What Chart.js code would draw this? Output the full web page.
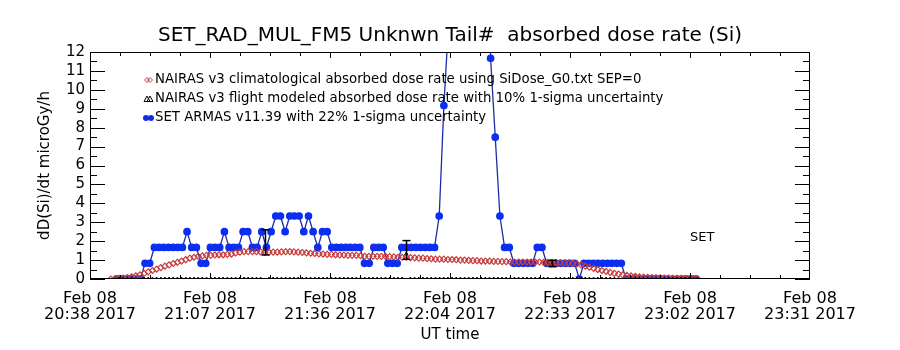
<!DOCTYPE html>
<html>
<head>
<meta charset="utf-8">
<script src="https://cdn.jsdelivr.net/npm/chart.js@4.4.1/dist/chart.umd.min.js"></script>
<style>
  html, body { margin: 0; padding: 0; background: #fff; }
</style>
</head>
<body>
<canvas id="doseChart" width="900" height="350"></canvas>
<script>
// x axis is minutes after 20:38 UT
const xTickVals = [0, 28.83, 57.67, 86.5, 115.33, 144.17, 173];
const xTickLabels = [
  ["Feb 08", "20:38 2017"], ["Feb 08", "21:07 2017"], ["Feb 08", "21:36 2017"],
  ["Feb 08", "22:04 2017"], ["Feb 08", "22:33 2017"], ["Feb 08", "23:02 2017"],
  ["Feb 08", "23:31 2017"]
];

// NAIRAS climatological, one value per minute starting at minute 5
const climStart = 5;
const climVals = [
  0.0, 0.02, 0.03, 0.05, 0.08, 0.12, 0.17, 0.22, 0.3, 0.38,
  0.45, 0.52, 0.6, 0.68, 0.75, 0.82, 0.88, 0.95, 1.02, 1.1,
  1.15, 1.2, 1.22, 1.25, 1.25, 1.27, 1.28, 1.28, 1.3, 1.32,
  1.38, 1.42, 1.45, 1.45, 1.45, 1.45, 1.43, 1.42, 1.42, 1.42,
  1.42, 1.43, 1.45, 1.45, 1.43, 1.42, 1.4, 1.38, 1.36, 1.35,
  1.33, 1.32, 1.3, 1.3, 1.28, 1.27, 1.27, 1.25, 1.25, 1.25,
  1.23, 1.2, 1.2, 1.2, 1.2, 1.2, 1.2, 1.18, 1.17, 1.15,
  1.15, 1.15, 1.13, 1.12, 1.1, 1.1, 1.08, 1.07, 1.05, 1.05,
  1.05, 1.03, 1.03, 1.02, 1.0, 1.0, 0.98, 0.97, 0.97, 0.95,
  0.95, 0.95, 0.93, 0.93, 0.92, 0.92, 0.9, 0.9, 0.9, 0.9,
  0.9, 0.9, 0.9, 0.9, 0.88, 0.88, 0.87, 0.87, 0.86, 0.85,
  0.85, 0.83, 0.8, 0.75, 0.68, 0.62, 0.56, 0.5, 0.45, 0.4,
  0.35, 0.3, 0.26, 0.22, 0.19, 0.16, 0.14, 0.12, 0.1, 0.09,
  0.08, 0.07, 0.06, 0.05, 0.05, 0.04, 0.03, 0.03, 0.02, 0.02,
  0.01, 0.01
];

// NAIRAS flight modeled, one value per minute starting at minute 7
const flightStart = 7;
const flightVals = [
  0, 0, 0, 0, 0, 0, 0, 0, 0, 0,  0, 0, 0, 0, 0, 0, 0, 0, 0, 0,
  0, 0, 0, 0, 0, 0, 0, 0, 0, 0,  0, 0, 0, 0, 0, 1.58, 0, 0, 0, 0,
  0, 0, 0, 0, 0, 0, 0, 0, 0, 0,  0, 0, 0, 0, 0, 0, 0, 0, 0, 0,
  0, 0, 0, 0, 0, 0, 0, 0, 0, 1.32,  0, 0, 0, 0, 0, 0, 0, 0, 0, 0,
  0, 0, 0, 0, 0, 0, 0, 0, 0, 0,  0, 0, 0, 0, 0, 0, 0, 0, 0, 0,
  0, 0, 0, 0, 0.83, 0, 0, 0, 0, 0,  0, 0, 0, 0, 0, 0, 0, 0, 0, 0,
  0, 0, 0, 0, 0, 0, 0, 0, 0, 0,  0, 0, 0, 0, 0, 0, 0, 0, 0, 0
];
// error bars on the flight modeled points (minute, low, high)
const errMinutes = [42, 76, 111];
const errLow = [1.27, 1.04, 0.65];
const errHigh = [2.6, 2.03, 0.99];

// SET ARMAS measurements, every 1.122 minutes starting at minute 6.49
const armasStart = 6.49;
const armasStep = 1.122;
const armasVals = [
  0, 0, 0, 0, 0, 0, 0.83, 0.83, 1.67, 1.67,
  1.67, 1.67, 1.67, 1.67, 1.67, 2.5, 1.67, 1.67, 0.83, 0.83,
  1.67, 1.67, 1.67, 2.5, 1.67, 1.67, 1.67, 2.5, 2.5, 1.67,
  1.67, 2.5, 1.67, 2.5, 3.33, 3.33, 2.5, 3.33, 3.33, 3.33,
  2.5, 3.33, 2.5, 1.67, 2.5, 2.5, 1.67, 1.67, 1.67, 1.67,
  1.67, 1.67, 1.67, 0.83, 0.83, 1.67, 1.67, 1.67, 0.83, 0.83,
  0.83, 1.67, 1.67, 1.67, 1.67, 1.67, 1.67, 1.67, 1.67, 3.33,
  9.17, 13.5, 20, 26, 30, 31, 29, 27, 24, 30,
  11.67, 7.5, 3.33, 1.67, 1.67, 0.83, 0.83, 0.83, 0.83, 0.83,
  1.67, 1.67, 0.83, 0.83, 0.83, 0.83, 0.83, 0.83, 0.83, 0,
  0.83, 0.83, 0.83, 0.83, 0.83, 0.83, 0.83, 0.83, 0.83, 0,
  0, 0, 0, 0, 0, 0, 0, 0, 0, 0,
  0, 0, 0, 0, 0
];

const climLabel = "NAIRAS v3 climatological absorbed dose rate using SiDose_G0.txt SEP=0";
const flightLabel = "NAIRAS v3 flight modeled absorbed dose rate with 10% 1-sigma uncertainty";
const armasLabel = "SET ARMAS v11.39 with 22% 1-sigma uncertainty";

const RED = '#c83c3c';
const BLUE_PT = '#0b2ef0';
const BLUE_LN = '#1c2ca8';
const FONT = 'DejaVu Sans';

const climPts = climVals.map((v, i) => ({x: climStart + i, y: v}));
const flightPts = flightVals.map((v, i) => ({x: flightStart + i, y: v}));
const armasPts = armasVals.map((v, i) => ({x: armasStart + i * armasStep, y: v}));

// box, inward ticks, error bars, inner legend and label
const decorations = {
  id: 'decorations',
  afterDatasetsDraw(chart) {
    const {ctx, chartArea: a, scales: {x, y}} = chart;
    const seg = (x1, y1, x2, y2) => { ctx.beginPath(); ctx.moveTo(x1, y1); ctx.lineTo(x2, y2); ctx.stroke(); };
    ctx.save();
    ctx.strokeStyle = '#000';
    ctx.lineWidth = 1;

    // error bars
    errMinutes.forEach((m, i) => {
      const px = Math.round(x.getPixelForValue(m)) + 0.5;
      const lo = y.getPixelForValue(errLow[i]);
      const hi = y.getPixelForValue(errHigh[i]);
      ctx.lineWidth = 1.5;
      seg(px, lo, px, hi);
      seg(px - 4, lo, px + 4, lo);
      seg(px - 4, hi, px + 4, hi);
    });
    ctx.lineWidth = 1;

    ctx.strokeRect(a.left + 0.5, a.top + 0.5, a.right - a.left - 1, a.bottom - a.top - 1);

    // y ticks on both sides, minor every 0.5
    for (let v = 0; v <= 12; v += 0.5) {
      const py = Math.round(y.getPixelForValue(v)) + 0.5;
      const len = Number.isInteger(v) ? 15 : 7;
      seg(a.left, py, a.left + len, py);
      seg(a.right, py, a.right - len, py);
    }
    // x ticks top and bottom, 4 minor per major
    for (let i = 0; i < xTickVals.length - 1; i++) {
      for (let k = 0; k < 4; k++) {
        const v = xTickVals[i] + (xTickVals[i + 1] - xTickVals[i]) * k / 4;
        const px = Math.round(x.getPixelForValue(v)) + 0.5;
        const len = k === 0 ? 6 : 4;
        seg(px, a.bottom, px, a.bottom - len);
        seg(px, a.top, px, a.top + len);
      }
    }

    // legend inside the plot
    ctx.font = '13.3px "' + FONT + '"';
    ctx.fillStyle = '#000';
    ctx.textBaseline = 'middle';
    const lx = 145, tx = 155;
    const rows = [80, 99, 118];
    ctx.strokeStyle = RED;
    [lx + 2, lx + 5].forEach(cx => {
      ctx.beginPath();
      ctx.moveTo(cx, rows[0] - 2.5); ctx.lineTo(cx + 2.5, rows[0]);
      ctx.lineTo(cx, rows[0] + 2.5); ctx.lineTo(cx - 2.5, rows[0]); ctx.closePath(); ctx.stroke();
    });
    ctx.strokeStyle = '#000';
    [lx + 2, lx + 5].forEach(cx => {
      ctx.beginPath();
      ctx.moveTo(cx, rows[1] - 3); ctx.lineTo(cx + 3, rows[1] + 2.5);
      ctx.lineTo(cx - 3, rows[1] + 2.5); ctx.closePath(); ctx.stroke();
    });
    ctx.fillStyle = BLUE_PT;
    [lx + 1, lx + 6].forEach(cx => {
      ctx.beginPath(); ctx.arc(cx, rows[2], 3, 0, Math.PI * 2); ctx.fill();
    });
    ctx.strokeStyle = BLUE_LN;
    seg(lx + 1, rows[2], lx + 6, rows[2]);
    ctx.fillStyle = '#000';
    ctx.fillText(climLabel, tx, rows[0]);
    ctx.fillText(flightLabel, tx, rows[1]);
    ctx.fillText(armasLabel, tx, rows[2]);

    ctx.font = '13px "' + FONT + '"';
    ctx.fillText('SET', 690, 238);
    ctx.restore();
  }
};

new Chart(document.getElementById('doseChart'), {
  type: 'scatter',
  data: {
    datasets: [
      {
        label: climLabel,
        data: climPts,
        showLine: false,
        pointStyle: 'rectRot',
        pointRadius: 3,
        borderWidth: 1.2,
        pointBorderColor: RED,
        pointBackgroundColor: 'rgba(255,255,255,0)'
      },
      {
        label: flightLabel,
        data: flightPts,
        showLine: false,
        pointStyle: 'triangle',
        pointRadius: 2,
        borderWidth: 1,
        pointBorderColor: '#000',
        pointBackgroundColor: 'rgba(255,255,255,0)'
      },
      {
        label: armasLabel,
        data: armasPts,
        showLine: true,
        borderColor: BLUE_LN,
        borderWidth: 1.3,
        tension: 0,
        pointStyle: 'circle',
        pointRadius: 3.2,
        pointBorderColor: BLUE_PT,
        pointBackgroundColor: BLUE_PT
      }
    ]
  },
  options: {
    responsive: false,
    animation: false,
    layout: { padding: 0 },
    plugins: {
      legend: { display: false },
      tooltip: { enabled: false },
      title: {
        display: true,
        text: 'SET_RAD_MUL_FM5 Unknwn Tail#  absorbed dose rate (Si)',
        color: '#000',
        font: { family: FONT, size: 20, weight: 'normal' },
        padding: { top: 24, bottom: 4 }
      }
    },
    scales: {
      x: {
        type: 'linear',
        min: 0,
        max: 173,
        afterBuildTicks: s => { s.ticks = xTickVals.map(v => ({ value: v })); },
        afterFit: s => { s.height = 71; },
        grid: { display: false, drawTicks: false, tickLength: 0 },
        border: { display: false },
        ticks: {
          autoSkip: false,
          maxRotation: 0,
          padding: 12,
          color: '#000',
          font: { family: FONT, size: 16, lineHeight: 1.0 },
          callback: (v, i) => xTickLabels[i]
        },
        title: {
          display: true,
          text: 'UT time',
          color: '#000',
          font: { family: FONT, size: 15 },
          padding: { top: 0, bottom: 6 }
        }
      },
      y: {
        min: 0,
        max: 12,
        afterFit: s => { s.width = 90; },
        grid: { display: false, drawTicks: false, tickLength: 0 },
        border: { display: false },
        ticks: {
          stepSize: 1,
          autoSkip: false,
          padding: 5,
          color: '#000',
          font: { family: FONT, size: 15 }
        },
        title: {
          display: true,
          text: 'dD(Si)/dt microGy/h',
          color: '#000',
          font: { family: FONT, size: 15 },
          padding: { top: 36, bottom: 0 }
        }
      },
      // empty right-hand axis that only reserves the margin
      yRight: {
        position: 'right',
        afterFit: s => { s.width = 90; },
        grid: { display: false, drawTicks: false },
        border: { display: false },
        ticks: { display: false }
      }
    }
  },
  plugins: [decorations]
});
</script>
</body>
</html>
